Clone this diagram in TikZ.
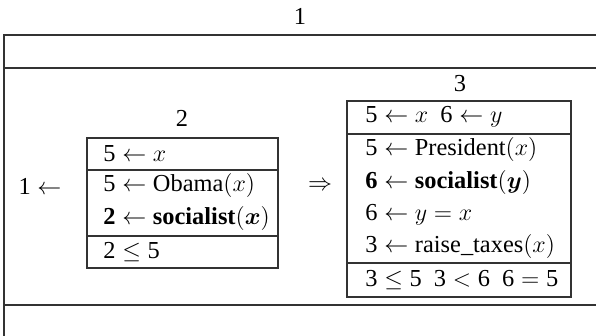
\documentclass[tikz,border=0pt]{standalone}
\usepackage{amsmath}
\usepackage{fontspec}
\setmainfont{Liberation Serif}
\usepackage{tikz}
\usetikzlibrary{positioning}

\begin{document}
\begin{tikzpicture}[
      x=0.5pt, y=-0.5pt,
      font=\fontsize{12.2}{14.5}\selectfont,
      drs/.style={draw=black!80, line width=0.6pt},
      row/.style={anchor=west, inner sep=0pt},
      lbl/.style={inner sep=0pt}
    ]
      \useasboundingbox (0,0) rectangle (596,336);

      % Outer box 1
      \node[lbl] (l1) at (300,16) {1};
      \draw[drs] (596,35) -- (4,35) -- (4,336);
      \draw[drs] (4,68) -- (596,68);
      \draw[drs] (4,305) -- (596,305);

      % Antecedent box 2
      \node[lbl] (l2) at (182,118) {2};
      \draw[drs] (87,138) rectangle (278,268);
      \draw[drs] (87,170) -- (278,170);
      \draw[drs] (87,236) -- (278,236);
      \node[row] (a1) at (103,154) {$\text{5} \leftarrow x$};
      \node[row] (a2) at (103,186) {$\text{5} \leftarrow \text{Obama}(x)$};
      \node[row] (a3) at (103,219) {$\text{\textbf{2}} \leftarrow \text{\textbf{socialist}}(\boldsymbol{x})$};
      \node[row] (a4) at (103,252) {$\text{2} \leq \text{5}$};

      \node[lbl] (cond) at (40,186) {$\text{1} \leftarrow$};
      \node[lbl] (impl) at (320,186) {$\Rightarrow$};

      % Consequent box 3
      \node[lbl] (l3) at (460,84) {3};
      \draw[drs] (347,101) rectangle (571,297);
      \draw[drs] (347,134) -- (571,134);
      \draw[drs] (347,263) -- (571,263);
      \node[row] (c1) at (365,117) {$\text{5} \leftarrow x\ \ \text{6} \leftarrow y$};
      \node[row] (c2) at (365,150) {$\text{5} \leftarrow \text{President}(x)$};
      \node[row] (c3) at (365,183) {$\text{\textbf{6}} \leftarrow \text{\textbf{socialist}}(\boldsymbol{y})$};
      \node[row] (c4) at (365,215) {$\text{6} \leftarrow y = x$};
      \node[row] (c5) at (365,247) {$\text{3} \leftarrow \text{raise\_taxes}(x)$};
      \node[row] (c6) at (365,280) {$\text{3} \leq \text{5}\ \ \text{3} < \text{6}\ \ \text{6} = \text{5}$};

    \end{tikzpicture}
\end{document}
